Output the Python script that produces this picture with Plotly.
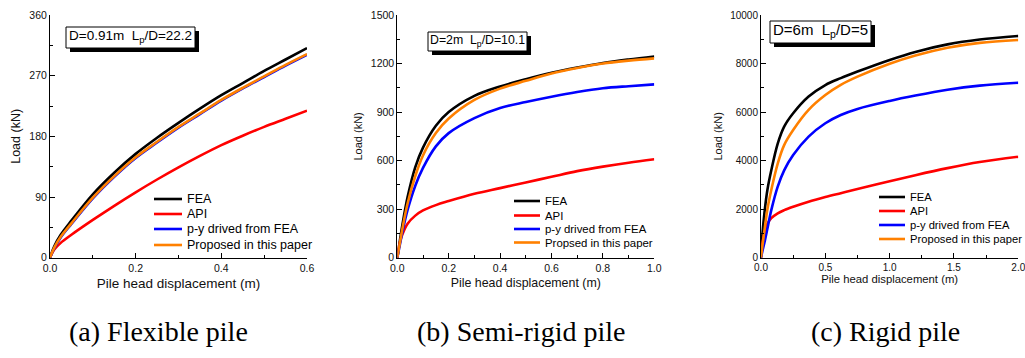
import plotly.graph_objects as go

# ---------------- data ----------------
# (a) Flexible pile, D = 0.91 m
disp_a = [0, 0.01, 0.025, 0.05, 0.1, 0.15, 0.2, 0.25, 0.3, 0.35, 0.4, 0.45, 0.5, 0.55, 0.6]
fea_a = [0, 17, 34, 55, 94, 126, 154, 178, 200, 221, 241, 259, 277, 294, 311]
api_a = [0, 12, 22, 34, 56, 77, 97, 116, 134, 151, 167, 181, 194, 206, 218]
py_a = [0, 14, 30, 50, 88, 120, 148, 171, 193, 213, 233, 251, 268, 285, 301]
prop_a = [0, 15, 31, 51, 89, 121, 149, 172, 194, 214, 234, 252, 269, 286, 302]

# (b) Semi-rigid pile, D = 2 m
disp_b = [0, 0.01, 0.02, 0.04, 0.07, 0.1, 0.15, 0.2, 0.3, 0.4, 0.5, 0.6, 0.7, 0.8, 0.9, 1.0]
fea_b = [0, 105, 205, 375, 560, 680, 815, 900, 1000, 1058, 1103, 1143, 1175, 1203, 1225, 1244]
api_b = [0, 95, 145, 210, 260, 292, 325, 350, 395, 430, 465, 500, 535, 563, 587, 608]
py_b = [0, 80, 160, 295, 445, 555, 688, 770, 863, 925, 962, 995, 1024, 1047, 1060, 1071]
prop_b = [0, 90, 180, 335, 505, 632, 770, 860, 975, 1045, 1093, 1138, 1172, 1200, 1218, 1232]

# (c) Rigid pile, D = 6 m
disp_c = [0, 0.01, 0.03, 0.05, 0.08, 0.13, 0.18, 0.25, 0.37, 0.5, 0.62, 0.75, 1.0, 1.2, 1.45, 1.7, 2.0]
fea_c = [0, 900, 2000, 2800, 3600, 4700, 5400, 5950, 6640, 7115, 7400, 7670, 8150, 8480, 8790, 8990, 9135]
api_c = [0, 550, 1100, 1400, 1630, 1830, 1960, 2100, 2310, 2500, 2660, 2830, 3150, 3400, 3690, 3940, 4160]
py_c = [0, 250, 700, 1200, 1960, 2930, 3600, 4230, 4990, 5540, 5880, 6130, 6460, 6680, 6920, 7090, 7210]
prop_c = [0, 450, 1250, 2000, 2790, 3880, 4640, 5260, 6090, 6700, 7120, 7460, 7990, 8330, 8650, 8850, 8970]

series_names = ["FEA", "API", "p-y drived from FEA"]
proposed_names = ["Proposed in this paper", "Propsed in this paper", "Proposed in this paper"]
colors = ["#000000", "#ff0000", "#0000ff", "#ff8000"]

captions = ["(a) Flexible pile", "(b) Semi-rigid pile", "(c) Rigid pile"]
box_texts = [
    "D=0.91m\u00a0\u00a0L<sub>p</sub>/D=22.2",
    "D=2m\u00a0\u00a0L<sub>p</sub>/D=10.1",
    "D=6m\u00a0\u00a0L<sub>p</sub>/D=5",
]

W, H = 1025, 358
FONT = "Arial, Liberation Sans, sans-serif"


def px(x):
    return x / W


def py(y):
    return 1 - y / H


panels = [
    dict(x=disp_a, ys=[fea_a, api_a, py_a, prop_a], xr=[0, 0.6], yr=[0, 360],
         dx=0.2, mdx=0.1, dy=90, mdy=45, fmt=".1f",
         left=50, right=307, tick=10.5, title_x=13.5, title_y=12.5, ystand=5, xstand=5, tstand=1,
         box=(66, 27, 195, 48), box_font=13.5,
         leg_x=(154, 182, 185), leg_y=[199, 214, 229, 245], leg_font=12.5),
    dict(x=disp_b, ys=[fea_b, api_b, py_b, prop_b], xr=[0, 1.0], yr=[0, 1500],
         dx=0.2, mdx=0.1, dy=300, mdy=150, fmt=".1f",
         left=397.3, right=654.3, tick=10.5, title_x=12.4, title_y=11, ystand=5, xstand=5, tstand=1,
         box=(428, 32, 527, 51), box_font=12.3,
         leg_x=(514, 540, 543), leg_y=[201, 215.5, 229, 242.5], leg_font=11.4),
    dict(x=disp_c, ys=[fea_c, api_c, py_c, prop_c], xr=[0, 2.0], yr=[0, 10000],
         dx=0.5, mdx=0.25, dy=2000, mdy=1000, fmt=".1f",
         left=761, right=1018.3, tick=10, title_x=11.3, title_y=11, ystand=5, xstand=0, tstand=0,
         box=(770, 21, 871, 43), box_font=15,
         leg_x=(879, 905, 908), leg_y=[197, 211, 225, 239], leg_font=11.2),
]

TOP, BOTTOM = 15, 257.7

fig = go.Figure()
shapes = []
annotations = []

for i, p in enumerate(panels):
    sfx = "" if i == 0 else str(i + 1)
    for ys, c in zip(p["ys"], colors):
        fig.add_trace(go.Scatter(
            x=p["x"], y=ys, mode="lines",
            line=dict(color=c, width=2.6, shape="spline", smoothing=1.0),
            xaxis="x" + sfx, yaxis="y" + sfx, showlegend=False, hoverinfo="skip",
        ))

    axis_common = dict(
        showline=True, linecolor="black", linewidth=1, mirror=False,
        ticks="inside", ticklen=5, tickwidth=1, tickcolor="black",
        showgrid=False, zeroline=False, fixedrange=True,
        ticklabeloverflow="allow",
        tickfont=dict(family=FONT, size=p["tick"], color="#111"),
    )
    fig.layout["xaxis" + sfx] = dict(
        axis_common, domain=[px(p["left"]), px(p["right"])], range=p["xr"],
        anchor="y" + sfx, dtick=p["dx"], tick0=0, tickformat=p["fmt"],
        ticklabelstandoff=p["tstand"],
        minor=dict(ticks="inside", ticklen=3, dtick=p["mdx"], tickcolor="black"),
        title=dict(text="Pile head displacement (m)", standoff=p["xstand"],
                   font=dict(family=FONT, size=p["title_x"], color="#111")),
    )
    fig.layout["yaxis" + sfx] = dict(
        axis_common, domain=[py(BOTTOM), py(TOP)], range=p["yr"],
        anchor="x" + sfx, dtick=p["dy"], tick0=0, tickformat="d",
        minor=dict(ticks="inside", ticklen=3, dtick=p["mdy"], tickcolor="black"),
        title=dict(text="Load (kN)", standoff=p["ystand"],
                   font=dict(family=FONT, size=p["title_y"], color="#111")),
    )

    # parameter box with drop shadow
    x0, y0, x1, y1 = p["box"]
    shapes.append(dict(type="rect", xref="paper", yref="paper",
                       x0=px(x0 + 4), x1=px(x1 + 4), y0=py(y1 + 4), y1=py(y0 + 4),
                       fillcolor="black", line=dict(width=0)))
    shapes.append(dict(type="rect", xref="paper", yref="paper",
                       x0=px(x0), x1=px(x1), y0=py(y1), y1=py(y0),
                       fillcolor="white", line=dict(color="black", width=1)))
    annotations.append(dict(xref="paper", yref="paper", x=px((x0 + x1) / 2), y=py((y0 + y1) / 2 - 1),
                            text=box_texts[i], showarrow=False, xanchor="center", yanchor="middle",
                            font=dict(family=FONT, size=p["box_font"], color="black")))

    # legend
    lx0, lx1, tx = p["leg_x"]
    names = series_names + [proposed_names[i]]
    for name, c, ly in zip(names, colors, p["leg_y"]):
        shapes.append(dict(type="line", xref="paper", yref="paper",
                           x0=px(lx0), x1=px(lx1), y0=py(ly), y1=py(ly),
                           line=dict(color=c, width=2.6)))
        annotations.append(dict(xref="paper", yref="paper", x=px(tx), y=py(ly),
                                text=name, showarrow=False, xanchor="left", yanchor="middle",
                                font=dict(family=FONT, size=p["leg_font"], color="black")))

# captions
for cap, cx in zip(captions, [158, 521, 885]):
    annotations.append(dict(xref="paper", yref="paper", x=px(cx), y=py(331),
                            text=cap, showarrow=False, xanchor="center", yanchor="middle",
                            font=dict(family="Liberation Serif, Times New Roman, serif",
                                      size=28, color="black")))

fig.update_layout(
    width=W, height=H,
    margin=dict(l=0, r=0, t=0, b=0, autoexpand=False),
    paper_bgcolor="white", plot_bgcolor="white",
    shapes=shapes, annotations=annotations,
    showlegend=False,
)

fig.write_html("out.html")
